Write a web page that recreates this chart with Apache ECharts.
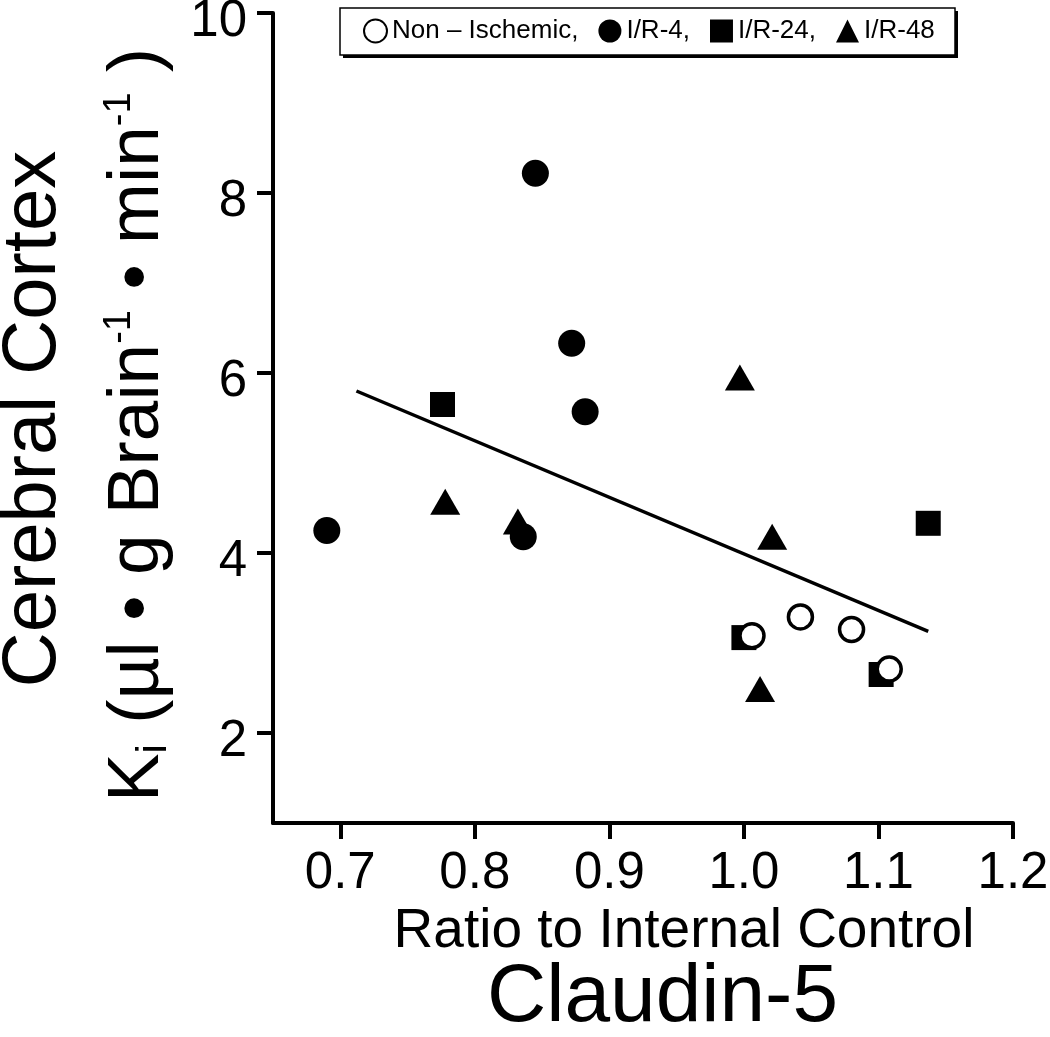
<!DOCTYPE html>
<html>
<head>
<meta charset="utf-8">
<script src="https://cdn.jsdelivr.net/npm/echarts@6/dist/echarts.min.js"></script>
<style>
html,body{margin:0;padding:0;background:#fff;}
#chart{width:1050px;height:1037px;}
</style>
</head>
<body>
<div id="chart"></div>
<script>
// ---- data ----
const xTicks = [0.7, 0.8, 0.9, 1.0, 1.1, 1.2];
const yTicks = [2, 4, 6, 8, 10];
const legendNames = ['Non \u2013 Ischemic,', 'I/R-4,', 'I/R-24,', 'I/R-48'];
const nonIschemic = [[1.006, 3.08], [1.042, 3.29], [1.080, 3.15], [1.108, 2.71]];
const ir4 = [[0.845, 8.22], [0.872, 6.33], [0.882, 5.57], [0.690, 4.25], [0.836, 4.18]];
const ir24 = [[0.776, 5.65], [1.137, 4.33], [1.000, 3.06], [1.102, 2.65]];
const ir48 = [[0.997, 5.95], [0.778, 4.57], [0.832, 4.35], [1.021, 4.18], [1.012, 2.49]];
const fitLine = [[0.712, 5.80], [1.137, 3.13]];

const FONT = "'Liberation Sans', Arial, Helvetica, sans-serif";
const chart = echarts.init(document.getElementById('chart'), null, {renderer: 'canvas'});

const yTitle2 = '{m|K}{sub|i}{m| (\u00b5l \u2022 g Brain}{sup|-1}{m| \u2022 min}{sup|-1}{m| )}';

chart.setOption({
  animation: false,
  backgroundColor: '#fff',
  textStyle: {fontFamily: FONT, color: '#000'},
  title: {
    text: 'Claudin-5',
    left: 482, top: 952,
    textStyle: {fontFamily: FONT, fontSize: 82, fontWeight: 'normal', color: '#000'}
  },
  legend: {
    data: legendNames,
    left: 340, top: 8,
    orient: 'horizontal',
    padding: [10, 18, 10, 23],
    itemWidth: 23, itemHeight: 23, itemGap: 20,
    textStyle: {fontFamily: FONT, fontSize: 26, color: '#000'},
    selectedMode: false,
    z: 10
  },
  grid: {left: 273, right: 37, top: 13, bottom: 214, containLabel: false, outerBoundsMode: 'none'},
  xAxis: {
    type: 'value', min: 0.65, max: 1.2,
    name: 'Ratio to Internal Control', nameLocation: 'middle', nameGap: 74,
    nameTextStyle: {fontFamily: FONT, fontSize: 55, color: '#000', padding: [0, 0, 0, 82]},
    axisLine: {show: true, onZero: false, lineStyle: {color: '#000', width: 4}},
    axisTick: {show: true, inside: false, length: 16, lineStyle: {color: '#000', width: 4}, customValues: xTicks},
    axisLabel: {show: true, margin: 25, fontFamily: FONT, fontSize: 51, color: '#000', customValues: xTicks,
      formatter: v => v.toFixed(1)},
    splitLine: {show: false}
  },
  yAxis: {
    type: 'value', min: 1, max: 10,
    axisLine: {show: true, onZero: false, lineStyle: {color: '#000', width: 4}},
    axisTick: {show: true, inside: false, length: 16, lineStyle: {color: '#000', width: 4}, customValues: yTicks},
    axisLabel: {show: true, margin: 26, fontFamily: FONT, fontSize: 51, color: '#000', customValues: yTicks,
      verticalAlign: 'top', lineHeight: 18},
    splitLine: {show: false}
  },
  graphic: [
    {
      type: 'rect', z: 5, silent: true,
      shape: {x: 343, y: 11, width: 615, height: 47},
      style: {fill: '#000'}
    },
    {
      type: 'rect', z: 6, silent: true,
      shape: {x: 340, y: 8, width: 615, height: 47},
      style: {fill: '#fff', stroke: '#000', lineWidth: 1.5}
    },
    {
      type: 'text', x: 34, y: 419, rotation: Math.PI / 2,
      style: {text: 'Cerebral Cortex', font: '76px ' + FONT, fill: '#000', align: 'center', verticalAlign: 'middle'}
    },
    {
      type: 'text', x: 138, y: 425, rotation: Math.PI / 2,
      style: {
        text: yTitle2, fill: '#000', align: 'center', verticalAlign: 'middle',
        rich: {
          m: {fontFamily: FONT, fontSize: 73, lineHeight: 74, verticalAlign: 'middle', color: '#000'},
          sub: {fontFamily: FONT, fontSize: 42, lineHeight: 28, verticalAlign: 'bottom', color: '#000'},
          sup: {fontFamily: FONT, fontSize: 38, lineHeight: 28, verticalAlign: 'top', color: '#000'}
        }
      }
    }
  ],
  series: [
    {
      type: 'line', name: 'fit', data: fitLine, showSymbol: false, symbol: 'none', silent: true,
      lineStyle: {color: '#000', width: 3.5}, z: 1
    },
    {
      type: 'scatter', name: legendNames[2], data: ir24, symbol: 'rect', symbolSize: 25,
      itemStyle: {color: '#000', opacity: 1}, z: 2
    },
    {
      type: 'scatter', name: legendNames[0], data: nonIschemic, symbol: 'circle', symbolSize: 24,
      itemStyle: {color: '#fff', borderColor: '#000', borderWidth: 3.5, opacity: 1}, z: 3
    },
    {
      type: 'scatter', name: legendNames[1], data: ir4, symbol: 'circle', symbolSize: 27,
      itemStyle: {color: '#000', opacity: 1}, z: 3
    },
    {
      type: 'scatter', name: legendNames[3], data: ir48, symbol: 'triangle', symbolSize: [30, 26],
      itemStyle: {color: '#000', opacity: 1}, z: 3
    }
  ]
});
</script>
</body>
</html>
